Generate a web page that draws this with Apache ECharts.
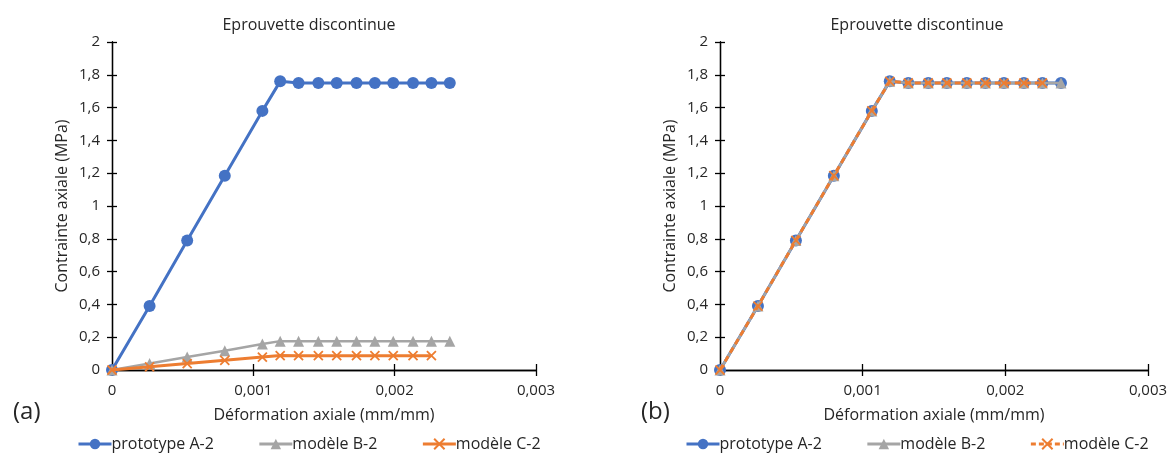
<!DOCTYPE html>
<html><head><meta charset="utf-8">
<script src="https://cdn.jsdelivr.net/npm/echarts@6/dist/echarts.min.js"></script>
<style>html,body{margin:0;padding:0;background:#fff}#c{width:1171px;height:454px}</style>
</head><body><div id="c"></div>
<script>
// Data
const strain = [0, 0.000266, 0.000532, 0.000798, 0.001064, 0.00119, 0.00132, 0.00146, 0.00159, 0.00173, 0.00186, 0.00199, 0.00213, 0.00226, 0.00239];
const strainC = [0, 0.000266, 0.000532, 0.000798, 0.001064, 0.00119, 0.00132, 0.00146, 0.00159, 0.00173, 0.00186, 0.00199, 0.00213, 0.00226];
// (a)
const stressA = [0, 0.39, 0.79, 1.185, 1.58, 1.76, 1.75, 1.75, 1.75, 1.75, 1.75, 1.75, 1.75, 1.75, 1.75];
const stressB = [0, 0.039, 0.079, 0.118, 0.158, 0.176, 0.175, 0.175, 0.175, 0.175, 0.175, 0.175, 0.175, 0.175, 0.175];
const stressC = [0, 0.0195, 0.0395, 0.059, 0.079, 0.088, 0.0875, 0.0875, 0.0875, 0.0875, 0.0875, 0.0875, 0.0875, 0.0875];
// (b)
const stressA_b = [0, 0.39, 0.79, 1.185, 1.58, 1.76, 1.75, 1.75, 1.75, 1.75, 1.75, 1.75, 1.75, 1.75, 1.75];
const stressB_b = [0, 0.39, 0.79, 1.185, 1.58, 1.76, 1.75, 1.75, 1.75, 1.75, 1.75, 1.75, 1.75, 1.75, 1.75];
const stressC_b = [0, 0.39, 0.79, 1.185, 1.58, 1.76, 1.75, 1.75, 1.75, 1.75, 1.75, 1.75, 1.75, 1.75];
const names = ['prototype A-2', 'modèle B-2', 'modèle C-2'];
const chartTitle = 'Eprouvette discontinue';
const xName = 'Déformation axiale (mm/mm)';
const yName = 'Contrainte axiale (MPa)';
const panelLabels = ['(a)', '(b)'];

const F = 'Open Sans';
const TXT = '#262626';
const BLUE = '#4472C4', GRAY = '#A5A5A5', ORANGE = '#ED7D31';
const pair = (xs, ys) => ys.map((y, i) => [xs[i], y]);
const fmtX = v => (Math.round(v * 1000) / 1000).toString().replace('.', ',');
const fmtY = v => (Math.round(v * 10) / 10).toString().replace('.', ',');
const crossPath = 'path://M0,0L10,10M0,10L10,0';

function xAxes(gi) {
  const base = {type: 'value', gridIndex: gi, position: 'bottom', min: 0, max: 0.003, interval: 0.001, splitLine: {show: false},
    axisLine: {onZero: false, lineStyle: {color: '#000', width: 1.3}}};
  return [
    Object.assign({}, base, {axisTick: {length: 6, lineStyle: {color: '#000', width: 1.3}},
      axisLabel: {formatter: fmtX, color: TXT, fontFamily: F, fontSize: 15, margin: 13},
      name: xName, nameLocation: 'middle', nameGap: 37, nameTextStyle: {color: TXT, fontFamily: F, fontSize: 16}}),
    Object.assign({}, base, {axisTick: {inside: true, length: 6, lineStyle: {color: '#000', width: 1.3}},
      axisLabel: {show: false}})
  ];
}
function yAxes(gi) {
  const base = {type: 'value', gridIndex: gi, position: 'left', min: 0, max: 2, interval: 0.2, splitLine: {show: false},
    axisLine: {onZero: false, lineStyle: {color: '#000', width: 1.3}}};
  return [
    Object.assign({}, base, {axisTick: {length: 5, lineStyle: {color: '#000', width: 1.3}},
      axisLabel: {formatter: fmtY, color: TXT, fontFamily: F, fontSize: 15, margin: 12},
      name: yName, nameLocation: 'middle', nameGap: 42, nameTextStyle: {color: TXT, fontFamily: F, fontSize: 16}}),
    Object.assign({}, base, {axisTick: {inside: true, length: 5, lineStyle: {color: '#000', width: 1.3}},
      axisLabel: {show: false}})
  ];
}

function seriesSet(xi, ya, yb, yc, dashedC) {
  return [
    {name: names[0], type: 'line', xAxisIndex: xi, yAxisIndex: xi, data: pair(strain, ya),
      symbol: 'circle', symbolSize: 12, itemStyle: {color: BLUE}, lineStyle: {color: BLUE, width: 3}, z: 2},
    {name: names[1], type: 'line', xAxisIndex: xi, yAxisIndex: xi, data: pair(strain, yb),
      symbol: 'triangle', symbolSize: 11, itemStyle: {color: GRAY}, lineStyle: {color: GRAY, width: 2.5}, z: 3},
    {name: names[2], type: 'line', xAxisIndex: xi, yAxisIndex: xi, data: pair(strainC, yc),
      symbol: crossPath, symbolSize: 9, itemStyle: {color: ORANGE, borderColor: ORANGE, borderWidth: 1.8},
      lineStyle: {color: ORANGE, width: 3, type: dashedC ? [6, 4] : 'solid'}, z: 4}
  ];
}

function legendData(dashedC) {
  return [
    {name: names[0], lineStyle: {width: 3}},
    {name: names[1], lineStyle: {width: 3}},
    {name: names[2], lineStyle: {width: 3, type: dashedC ? [5, 3] : 'solid'}}
  ];
}
const legendBase = {orient: 'horizontal', top: 431, itemWidth: 33, itemHeight: 13, itemGap: 44,
  textStyle: {color: TXT, fontFamily: F, fontSize: 16, padding: [0, 0, 0, -5]}, selectedMode: false};

const option = {
  animation: false,
  backgroundColor: '#fff',
  title: [
    {text: chartTitle, left: 304, top: 12, textAlign: 'center', textStyle: {color: TXT, fontFamily: F, fontSize: 16, fontWeight: 'normal'}},
    {text: chartTitle, left: 912, top: 12, textAlign: 'center', textStyle: {color: TXT, fontFamily: F, fontSize: 16, fontWeight: 'normal'}},
    {text: panelLabels[0], left: 8, top: 395, textStyle: {color: TXT, fontFamily: F, fontSize: 24, fontWeight: 'normal'}},
    {text: panelLabels[1], left: 636, top: 395, textStyle: {color: TXT, fontFamily: F, fontSize: 24, fontWeight: 'normal'}}
  ],
  grid: [
    {left: 112, top: 42, width: 424, height: 328},
    {left: 720, top: 42, width: 428, height: 328}
  ],
  xAxis: [...xAxes(0), ...xAxes(1)],
  yAxis: [...yAxes(0), ...yAxes(1)],
  legend: [
    Object.assign({}, legendBase, {left: 72, data: legendData(false)}),
    Object.assign({}, legendBase, {left: 680, data: legendData(true)})
  ],
  series: [...seriesSet(0, stressA, stressB, stressC, false), ...seriesSet(2, stressA_b, stressB_b, stressC_b, true)]
};
const chart = echarts.init(document.getElementById('c'), null, {renderer: 'canvas'});
chart.setOption(option);
</script></body></html>
